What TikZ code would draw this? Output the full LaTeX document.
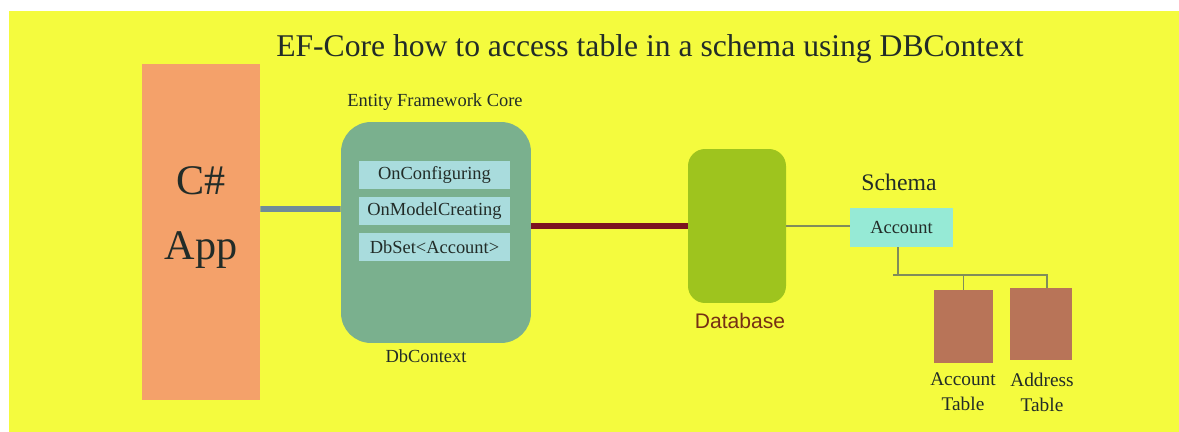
\documentclass[tikz,border=0pt]{standalone}
\usepackage{fontspec}
\setmainfont{Liberation Serif}
\newfontfamily\dbfont{Liberation Sans}
\usetikzlibrary{positioning,calc}
\definecolor{bgyellow}{RGB}{244,251,62}
\definecolor{inkdark}{RGB}{34,44,40}
\definecolor{appfill}{RGB}{244,161,106}
\definecolor{ctxfill}{RGB}{122,176,142}
\definecolor{methodfill}{RGB}{169,220,221}
\definecolor{appline}{RGB}{112,140,152}
\definecolor{dbline}{RGB}{124,20,32}
\definecolor{dbfill}{RGB}{158,196,30}
\definecolor{dbtext}{RGB}{118,48,20}
\definecolor{treeline}{RGB}{128,140,90}
\definecolor{accfill}{RGB}{150,234,214}
\definecolor{tabfill}{RGB}{184,116,88}
\tikzset{
  box/.style={inner sep=0pt,text=inkdark},
  appbox/.style={box,fill=appfill,minimum width=2.36cm,minimum height=6.72cm},
  ctxbox/.style={box,fill=ctxfill,rounded corners=0.6cm,minimum width=3.8cm,minimum height=4.42cm},
  methodbox/.style={box,fill=methodfill,minimum width=3.02cm,minimum height=0.56cm,font=\fontsize{10.5}{12}\selectfont},
  dbbox/.style={box,fill=dbfill,rounded corners=0.34cm,minimum width=1.96cm,minimum height=3.08cm},
  accbox/.style={box,fill=accfill,minimum width=2.06cm,minimum height=0.78cm,font=\fontsize{10.5}{12}\selectfont},
  tabbox/.style={box,fill=tabfill,minimum width=1.18cm,minimum height=1.46cm},
  caption/.style={inner sep=0pt,text=inkdark},
  tree/.style={draw=treeline,line width=0.6pt}
}
\begin{document}
\begin{tikzpicture}[x=0.02cm,y=-0.02cm]
\useasboundingbox (0,0) rectangle (1179,432);
\fill[bgyellow] (9,11) rectangle (1179,432);

\node[caption,anchor=base,font=\fontsize{18}{22}\selectfont] (title) at (650,57) {EF-Core how to access table in a schema using DBContext};

\node[appbox,label={[caption,align=center,yshift=0.28cm,font=\fontsize{24}{37}\selectfont]center:C\#\\App}] (app) at (201,232) {};

\node[ctxbox] (ctx) at (436,232.5) {};
\node[caption,anchor=base,font=\fontsize{10.5}{12}\selectfont] (efc) at (435,107) {Entity Framework Core};
\node[caption,anchor=base,font=\fontsize{10.5}{12}\selectfont] (ctxname) at (426,362) {DbContext};
\node[methodbox] (cfg) at (434.5,175) {OnConfiguring};
\node[methodbox] (mdl) at (434.5,211) {OnModelCreating};
\node[methodbox] (dbset) at (434.5,247) {DbSet<Account>};

\node[dbbox] (db) at (737,226) {};
\node[caption,anchor=base,text=dbtext,font=\dbfont\fontsize{12}{14}\selectfont] (dbname) at (740,328) {Database};

\node[caption,anchor=base,font=\fontsize{13.5}{16}\selectfont] (schema) at (899,191) {Schema};
\node[accbox] (acc) at (901.5,227.5) {Account};

\node[tabbox] (acctab) at (963.5,326.5) {};
\node[tabbox,minimum width=1.24cm,minimum height=1.44cm] (addrtab) at (1041,324) {};
\node[caption,align=center,font=\fontsize{11}{14.2}\selectfont] (acctabname) at (963,392) {Account\\Table};
\node[caption,align=center,font=\fontsize{11}{14.2}\selectfont] (addrtabname) at (1042,392) {Address\\Table};

\draw[appline,line width=3.4pt] ([yshift=0.46cm]app.east) -- ([yshift=0.47cm]ctx.west);
\draw[dbline,line width=3.8pt] (ctx.east|-db.west) -- (db.west);
\draw[tree] (db.east) -- (db.east-|acc.west);

\coordinate (fork) at (898,275);
\coordinate (addrtop) at ([xshift=0.12cm]addrtab.north);
\draw[tree] (acc.south-|fork) -- (fork);
\draw[tree] ([xshift=-0.1cm]fork) -- (fork-|addrtop) -- (addrtop);
\draw[tree] (fork-|acctab.north) -- (acctab.north);
\end{tikzpicture}
\end{document}
